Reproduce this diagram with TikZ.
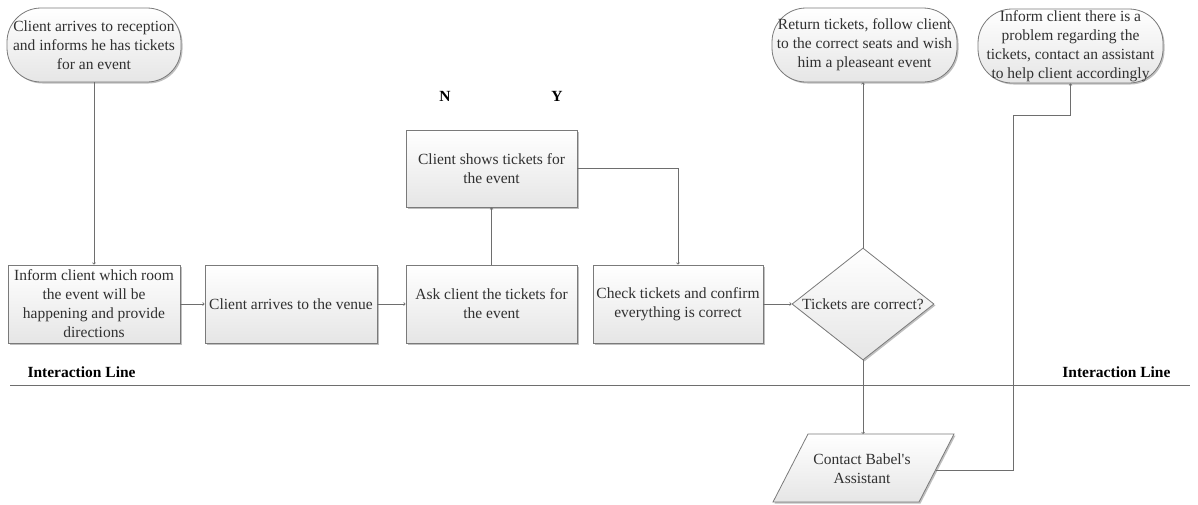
\documentclass[tikz,border=0pt]{standalone}
\usepackage{fontspec}
\setmainfont{Liberation Serif}
\usetikzlibrary{shapes.geometric,shadows,arrows.meta}
\definecolor{edgegray}{HTML}{7A7A7A}
\definecolor{linegray}{HTML}{6E6E6E}
\definecolor{txt}{HTML}{303030}
\begin{document}
\begin{tikzpicture}[x=1pt,y=-1pt,
  every node/.style={font=\fontsize{15.5}{19}\selectfont, text=txt, align=center},
  shaded/.style={draw=edgegray, line width=0.8pt, top color=white, bottom color=black!10,
    drop shadow={shadow xshift=1.5pt, shadow yshift=-1.5pt, opacity=0.25, fill=black}},
  procbox/.style={shaded, rectangle, inner sep=0pt},
  termbox/.style={shaded, rectangle, rounded corners=34pt, inner sep=0pt, minimum height=74pt},
  decbox/.style={shaded, diamond, inner sep=0pt},
  conn/.style={draw=linegray, line width=0.7pt, -{Straight Barb[length=1.5pt,width=3pt]}},
  plainline/.style={draw=linegray, line width=0.7pt},
  boldlabel/.style={font=\fontsize{15.5}{19}\selectfont\bfseries, text=black}]
\useasboundingbox (0,0) rectangle (1198,504);

% terminals along the top
\node[termbox, minimum width=174pt] (t1) at (94,45)
  {Client arrives to reception\\and informs he has tickets\\for an event};
\node[termbox, minimum width=185pt] (t2) at (864.5,45)
  {Return tickets, follow client\\to the correct seats and wish\\him a pleaseant event};
\node[termbox, minimum width=185pt] (t3) at (1070.5,46)
  {Inform client there is a\\problem regarding the\\tickets, contact an assistant\\to help client accordingly};

% process steps
\node[procbox, minimum width=172pt, minimum height=78pt] (b1) at (94,304)
  {Inform client which room\\the event will be\\happening and provide\\directions};
\node[procbox, minimum width=172pt, minimum height=78pt] (b2) at (291,304)
  {Client arrives to the venue};
\node[procbox, minimum width=171pt, minimum height=78pt] (b3) at (491.5,304)
  {Ask client the tickets for\\the event};
\node[procbox, minimum width=171pt, minimum height=77pt] (cs) at (491.5,168.5)
  {Client shows tickets for\\the event};
\node[procbox, minimum width=170pt, minimum height=78pt] (b4) at (678,304)
  {Check tickets and confirm\\everything is correct};

% decision
\node[decbox, minimum width=142pt, minimum height=112pt] (dec) at (863,304) {};
\node (dectext) at (863,304) {Tickets are correct?};

% contact step (parallelogram)
\coordinate (ptl) at (808,434);
\coordinate (ptr) at (954,434);
\coordinate (pbr) at (919,502);
\coordinate (pbl) at (773,502);
\path[shaded] (ptl) -- (ptr) -- (pbr) -- (pbl) -- cycle;
\coordinate (ptop) at (863,434);
\coordinate (pright) at (935.5,470);
\node (pc) at (862,469) {Contact Babel\textquotesingle s\\Assistant};

% labels
\node[boldlabel] (nlab) at (445,96) {N};
\node[boldlabel] (ylab) at (557,96) {Y};
\node[boldlabel, anchor=west] (il1) at (24,372) {Interaction Line};
\node[boldlabel, anchor=east] (il2) at (1174,372) {Interaction Line};
\coordinate (ilstart) at (10,385);
\coordinate (ilend) at (1190,385);
\draw[plainline] (ilstart) -- (ilend);

% connectors
\draw[conn] (t1) -- (b1);
\draw[conn] (b1) -- (b2);
\draw[conn] (b2) -- (b3);
\draw[conn] (b3) -- (cs);
\draw[conn] (cs.east) -| (b4.north);
\draw[conn] (b4) -- (dec);
\draw[conn] (dec.north) -- (dec.north |- t2.south);
\draw[conn] (dec.south) -- (ptop);
\coordinate (bend) at (1013,115);
\draw[conn] (pright) -| (bend) -| (t3.south);
\end{tikzpicture}
\end{document}
